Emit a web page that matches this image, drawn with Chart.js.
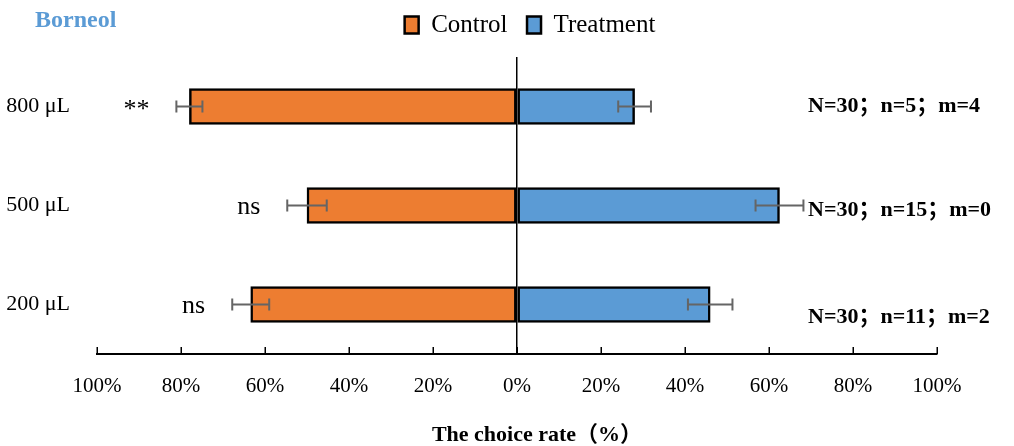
<!DOCTYPE html>
<html>
<head>
<meta charset="utf-8">
<script src="https://cdn.jsdelivr.net/npm/chart.js@4.4.1/dist/chart.umd.min.js"></script>
<style>
  html, body { margin: 0; padding: 0; background: #fff; }
  #wrap { width: 1014px; height: 446px; position: relative; }
</style>
</head>
<body>
<div id="wrap"><canvas id="chart"></canvas></div>
<script>
// Borneol dose groups, top to bottom
const doses = ['800 μL', '500 μL', '200 μL'];
// Choice rate (%) for each arm
const controlRate = [78, 50, 63.4];
const treatmentRate = [28, 62.5, 46];
// Error bar half-widths (%)
const controlErr = [3.1, 4.7, 4.4];
const treatmentErr = [3.9, 5.7, 5.3];
// Significance marks and sample notes per dose
const significance = ['**', 'ns', 'ns'];
const sampleNotes = ['N=30；n=5；m=4', 'N=30；n=15；m=0', 'N=30；n=11；m=2'];
// Rate axis ticks (control side is drawn negative)
const rateTicks = [-100, -80, -60, -40, -20, 0, 20, 40, 60, 80, 100];
const axisTitle = 'The choice rate（%）';

const SERIF = '"Liberation Serif", "Times New Roman", "Noto Sans CJK SC", serif';
const ORANGE = '#ED7D31';
const BLUE = '#5B9BD5';

const errorSets = [controlErr, treatmentErr];

// Error bars, significance marks, sample notes, titles and inward ticks
const decorations = {
  id: 'decorations',
  afterLayout(chart) {
    // place the legend row: a little right of centre, close to the top edge
    const lg = chart.legend;
    if (lg) {
      const dx = 530 - (lg.left + lg.right) / 2;
      lg.left += dx;
      lg.right += dx;
      lg.top -= 9.5;
      lg.bottom -= 9.5;
    }
  },
  afterDatasetsDraw(chart) {
    const ctx = chart.ctx;
    const x = chart.scales.x;
    const area = chart.chartArea;

    // error bars
    ctx.save();
    ctx.strokeStyle = '#656565';
    ctx.lineWidth = 2;
    chart.data.datasets.forEach((ds, di) => {
      const meta = chart.getDatasetMeta(di);
      meta.data.forEach((bar, i) => {
        const v = ds.data[i];
        const e = errorSets[di][i];
        const x1 = x.getPixelForValue(v - e);
        const x2 = x.getPixelForValue(v + e);
        const y = bar.y;
        ctx.beginPath();
        ctx.moveTo(x1, y); ctx.lineTo(x2, y);
        ctx.moveTo(x1, y - 6); ctx.lineTo(x1, y + 6);
        ctx.moveTo(x2, y - 6); ctx.lineTo(x2, y + 6);
        ctx.stroke();
      });
    });
    ctx.restore();

    // significance marks left of the control error bars
    const ctrlMeta = chart.getDatasetMeta(0);
    ctx.save();
    ctx.fillStyle = '#000';
    ctx.textAlign = 'right';
    ctx.textBaseline = 'middle';
    ctx.font = '26px ' + SERIF;
    significance.forEach((s, i) => {
      const left = x.getPixelForValue(-(controlRate[i] + controlErr[i]));
      ctx.fillText(s, left - 27, ctrlMeta.data[i].y + (s === '**' ? 4 : 2));
    });

    // sample notes on the right
    const noteShift = [0, 5, 13];
    ctx.textAlign = 'left';
    ctx.font = 'bold 22px ' + SERIF;
    sampleNotes.forEach((t, i) => {
      ctx.fillText(t, 808, ctrlMeta.data[i].y + noteShift[i]);
    });

    // inward tick marks on the rate axis
    ctx.strokeStyle = '#000';
    ctx.lineWidth = 1.5;
    ctx.beginPath();
    rateTicks.forEach(v => {
      const px = Math.round(x.getPixelForValue(v)) + 0.25;
      ctx.moveTo(px, area.bottom);
      ctx.lineTo(px, area.bottom - 7);
    });
    ctx.stroke();

    // axis title
    ctx.textAlign = 'center';
    ctx.font = 'bold 22px ' + SERIF;
    ctx.fillText(axisTitle, 537, 435);

    // panel title
    ctx.fillStyle = BLUE;
    ctx.font = 'bold 24px ' + SERIF;
    ctx.textAlign = 'left';
    ctx.fillText('Borneol', 35, 21);
    ctx.restore();
  }
};

new Chart(document.getElementById('chart'), {
  type: 'bar',
  data: {
    labels: doses,
    datasets: [
      {
        label: 'Control',
        data: controlRate.map(v => -v),
        backgroundColor: ORANGE,
        borderColor: '#000',
        borderWidth: 2.5,
        borderSkipped: false,
        barThickness: 36
      },
      {
        label: 'Treatment',
        data: treatmentRate,
        backgroundColor: BLUE,
        borderColor: '#000',
        borderWidth: 2.5,
        borderSkipped: false,
        barThickness: 36
      }
    ]
  },
  options: {
    indexAxis: 'y',
    responsive: true,
    maintainAspectRatio: false,
    animation: false,
    layout: { padding: { left: 0, right: 77, top: 2.5, bottom: 0 } },
    plugins: {
      legend: {
        position: 'top',
        labels: {
          color: '#000',
          font: { family: SERIF, size: 25 },
          boxWidth: 14,
          boxHeight: 17,
          padding: 19.5
        }
      },
      tooltip: { enabled: false }
    },
    scales: {
      x: {
        type: 'linear',
        min: -100,
        max: 100,
        stacked: true,
        afterBuildTicks(scale) { scale.ticks = rateTicks.map(v => ({ value: v })); },
        afterFit(scale) { scale.height = 92; },
        grid: {
          drawTicks: false,
          lineWidth: 1.5,
          color: c => (c.tick && c.tick.value === 0 ? '#000' : 'rgba(0,0,0,0)')
        },
        border: { display: true, color: '#000', width: 2 },
        ticks: {
          color: '#000',
          font: { family: SERIF, size: 21 },
          padding: 20,
          maxRotation: 0,
          callback: v => Math.abs(v) + '%'
        }
      },
      y: {
        type: 'category',
        stacked: true,
        afterFit(scale) { scale.width = 97; },
        grid: { display: false, drawTicks: false },
        border: { display: false },
        ticks: {
          color: '#000',
          font: { family: SERIF, size: 22 },
          padding: 27
        }
      }
    }
  },
  plugins: [decorations]
});
</script>
</body>
</html>
